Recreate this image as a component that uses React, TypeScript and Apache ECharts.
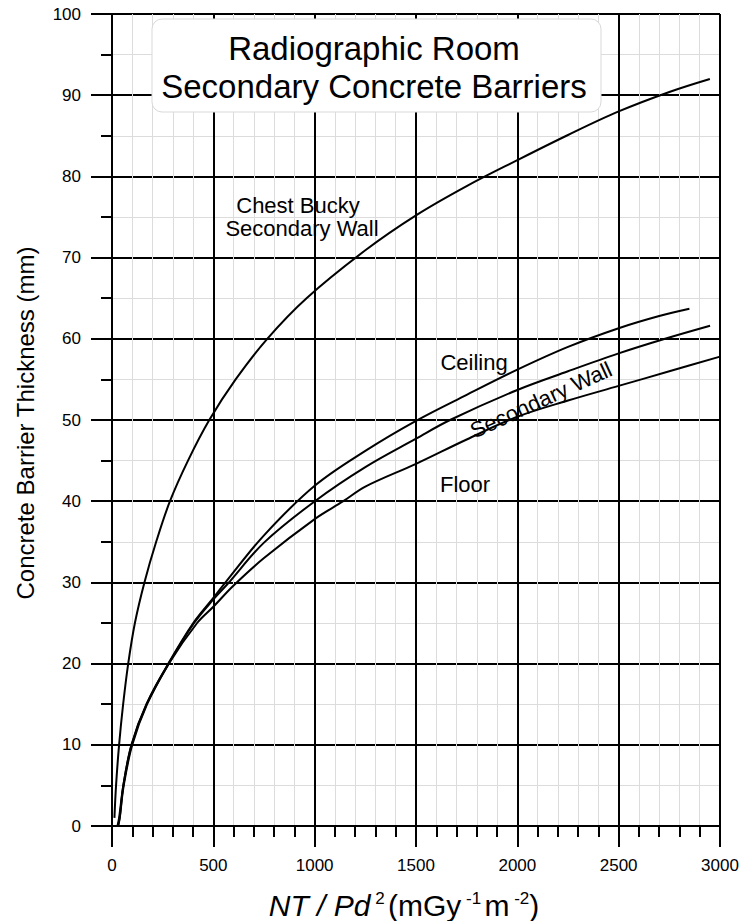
import React, { useEffect, useRef } from "react";
import * as echarts from "echarts";

const FONT = "'Liberation Sans', Arial, Helvetica, sans-serif";

// Chest Bucky secondary wall
const chestX = [12, 20, 35, 55, 80, 113, 160, 218, 286, 375, 480, 610, 766, 960, 1250, 1500, 1750, 2000, 2250, 2500, 2750, 2950];
const chestY = [1, 5, 10, 15, 20, 25, 30, 35, 40, 45, 50, 55, 60, 65, 70.9, 75.2, 78.8, 82, 85.1, 88, 90.4, 92];

// Ceiling
const ceilX = [27, 35, 56, 97, 171, 278, 401, 500, 560, 750, 1000, 1250, 1500, 1750, 2000, 2250, 2500, 2700, 2849];
const ceilY = [0, 1, 5, 10, 15, 20, 25, 28.1, 30, 35.8, 41.9, 46.2, 49.9, 53.1, 56.2, 59.0, 61.3, 62.8, 63.7];

// Secondary wall
const wallX = [30, 38, 58, 100, 173, 280, 405, 500, 570, 750, 1001, 1250, 1500, 1668, 2000, 2250, 2500, 2729, 2951];
const wallY = [0, 1, 5, 10, 15, 20, 25, 27.9, 29.8, 34.9, 40, 44.2, 47.7, 50, 53.7, 56.0, 58.2, 60, 61.6];

// Floor
const floorX = [30, 38, 56, 96, 170, 280, 420, 500, 595, 750, 1000, 1141, 1250, 1500, 1750, 2000, 2250, 2500, 2750, 3000];
const floorY = [0, 1, 5, 10, 15, 20, 25, 27.0, 29.5, 33.0, 37.8, 40, 41.8, 44.6, 47.6, 50.4, 52.4, 54.2, 56.0, 57.8];

const titleLines = ["Radiographic Room", "Secondary Concrete Barriers"];
const xAxisMax = 3000;
const yAxisMax = 100;

export default function App() {
  const ref = useRef<HTMLDivElement>(null);
  useEffect(() => {
    const chart = echarts.init(ref.current!, null, { renderer: "svg" });
    const zip = (xs: number[], ys: number[]) => xs.map((x, i) => [x, ys[i]]);
    const lineSeries = (name: string, xs: number[], ys: number[]) => ({
      type: "line",
      name,
      data: zip(xs, ys),
      showSymbol: false,
      smooth: 0.35,
      lineStyle: { color: "#000", width: 2 },
      z: 3,
      silent: true,
    });
    const axisCommon = {
      type: "value",
      axisLine: { show: true, onZero: false, lineStyle: { color: "#000", width: 2 } },
      axisTick: { show: true, inside: false, length: 21, lineStyle: { color: "#000", width: 2 } },
      axisLabel: { fontSize: 17, color: "#000", margin: 31, fontFamily: FONT, formatter: (v: number) => String(v) },
      splitLine: { show: true, lineStyle: { color: "#000", width: 2 } },
      minorSplitLine: { show: true, lineStyle: { color: "#dcdcdc", width: 1 } },
    };
    chart.setOption({
      animation: false,
      textStyle: { fontFamily: FONT },
      grid: { left: 112, right: 23, top: 14, bottom: 95, containLabel: false },
      xAxis: {
        ...axisCommon,
        min: 0,
        max: xAxisMax,
        interval: 500,
        minorTick: { show: true, splitNumber: 5, length: 11, lineStyle: { color: "#000", width: 2 } },
      },
      yAxis: {
        ...axisCommon,
        min: 0,
        max: yAxisMax,
        interval: 10,
        minorTick: { show: true, splitNumber: 2, length: 11, lineStyle: { color: "#000", width: 2 } },
      },
      series: [
        lineSeries("Chest Bucky Secondary Wall", chestX, chestY),
        lineSeries("Ceiling", ceilX, ceilY),
        lineSeries("Secondary Wall", wallX, wallY),
        lineSeries("Floor", floorX, floorY),
      ],
      graphic: [
        {
          type: "rect",
          z: 10,
          shape: { x: 152, y: 19, width: 449, height: 93, r: 10 },
          style: { fill: "#fff", stroke: "#d9d9d9", lineWidth: 1 },
        },
        {
          type: "text",
          z: 11,
          x: 374,
          y: 48,
          style: { text: titleLines[0], fontSize: 33, fontFamily: FONT, fill: "#000", align: "center", verticalAlign: "middle" },
        },
        {
          type: "text",
          z: 11,
          x: 374,
          y: 86,
          style: { text: titleLines[1], fontSize: 33, fontFamily: FONT, fill: "#000", align: "center", verticalAlign: "middle" },
        },
        {
          type: "text",
          z: 11,
          x: 298,
          y: 205,
          style: { text: "Chest Bucky", fontSize: 22, fontFamily: FONT, fill: "#000", align: "center", verticalAlign: "middle" },
        },
        {
          type: "text",
          z: 11,
          x: 302,
          y: 228,
          style: { text: "Secondary Wall", fontSize: 22, fontFamily: FONT, fill: "#000", align: "center", verticalAlign: "middle" },
        },
        {
          type: "text",
          z: 11,
          x: 474,
          y: 362,
          style: { text: "Ceiling", fontSize: 22, fontFamily: FONT, fill: "#000", align: "center", verticalAlign: "middle" },
        },
        {
          type: "text",
          z: 11,
          x: 465,
          y: 484,
          style: { text: "Floor", fontSize: 22, fontFamily: FONT, fill: "#000", align: "center", verticalAlign: "middle" },
        },
        {
          type: "text",
          z: 11,
          x: 541,
          y: 400,
          rotation: 0.43,
          style: { text: "Secondary Wall", fontSize: 22, fontFamily: FONT, fill: "#000", align: "center", verticalAlign: "middle" },
        },
        {
          type: "text",
          z: 11,
          x: 25,
          y: 423,
          rotation: Math.PI / 2,
          style: { text: "Concrete Barrier Thickness (mm)", fontSize: 24, fontFamily: FONT, fill: "#000", align: "center", verticalAlign: "middle" },
        },
        {
          type: "text",
          z: 11,
          x: 404,
          y: 905,
          style: {
            text: "{i|NT / Pd}{s| 2} {n|(mGy}{s| -1} {n|m}{s| -2}{n|)}",
            align: "center",
            verticalAlign: "middle",
            fill: "#000",
            rich: {
              i: { fontSize: 30, fontStyle: "italic", fontFamily: FONT, fill: "#000", verticalAlign: "bottom" },
              n: { fontSize: 30, fontFamily: FONT, fill: "#000", verticalAlign: "bottom" },
              s: { fontSize: 17, fontFamily: FONT, fill: "#000", verticalAlign: "top" },
            },
          },
        },
      ],
    });
    return () => chart.dispose();
  }, []);
  return <div ref={ref} style={{ width: 743, height: 921, position: "absolute", left: 0, top: 0 }} />;
}
